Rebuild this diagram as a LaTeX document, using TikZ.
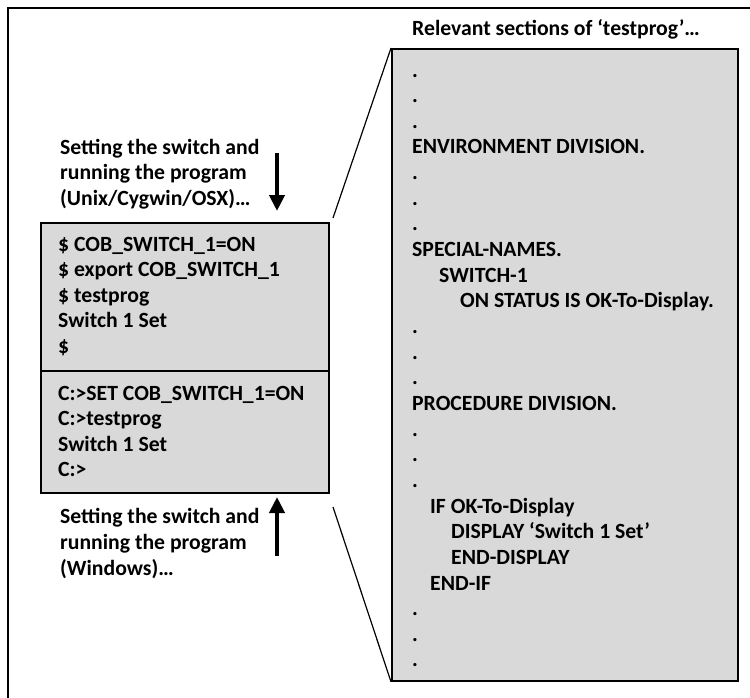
\documentclass[tikz,border=0pt]{standalone}
\usepackage{fontspec}
\setmainfont{Carlito}
\usetikzlibrary{arrows.meta}
\definecolor{boxgray}{HTML}{D9D9D9}
\begin{document}
\begin{tikzpicture}[x=1pt,y=-1pt,
  txt/.style={anchor=base west,inner sep=0pt,font=\bfseries\fontsize{21.7}{26}\selectfont},
  codebox/.style={draw=black,line width=1.8pt,fill=boxgray,inner sep=0pt,anchor=north west},
  bigarrow/.style={line width=4.2pt,-{Triangle[width=15pt,length=16pt]}},
  zoomline/.style={line width=1.2pt}]
\useasboundingbox (0,0) rectangle (750,697);
\clip (0,0) rectangle (750,697);
% outer frame
\draw[line width=1.5pt] (8,720) -- (8,8) -- (770,8);
% program listing
\node[codebox,minimum width=346pt,minimum height=632pt] (prog) at (391,48) {};
\node[txt] (title) at (412,35) {Relevant sections of ‘testprog’…};
\foreach \ind/\line [count=\i] in {0/.,0/.,0/.,0/ENVIRONMENT DIVISION.,0/.,0/.,0/.,
  0/SPECIAL-NAMES.,27/SWITCH-1,48/ON STATUS IS OK-To-Display.,0/.,0/.,0/.,
  0/PROCEDURE DIVISION.,0/.,0/.,0/.,18/IF OK-To-Display,39/DISPLAY ‘Switch 1 Set’,
  39/END-DISPLAY,18/END-IF,0/.,0/.,0/.}
  \node[txt] (code\i) at (412+\ind,77+25.65*\i-25.65) {\line};
% command boxes
\node[codebox,minimum width=288pt,minimum height=148pt] (unix) at (40,222) {};
\node[codebox,minimum width=288pt,minimum height=122pt] (win) at (40,370) {};
\foreach \line [count=\i] in {\$ COB\_SWITCH\_1=ON,\$ export COB\_SWITCH\_1,\$ testprog,Switch 1 Set,\$}
  \node[txt] (u\i) at (58,251+25.5*\i-25.5) {\line};
\foreach \line [count=\i] in {C:>SET COB\_SWITCH\_1=ON,C:>testprog,Switch 1 Set,C:>}
  \node[txt] (w\i) at (58,400+25.5*\i-25.5) {\line};
% captions
\node[txt] (cu1) at (60,154) {Setting the switch and};
\node[txt] (cu2) at (60,179.5) {running the program};
\node[txt] (cu3) at (60,205) {(Unix/Cygwin/OSX)…};
\node[txt] (cw1) at (60,523) {Setting the switch and};
\node[txt] (cw2) at (60,549) {running the program};
\node[txt] (cw3) at (60,575) {(Windows)…};
% arrows
\coordinate (dtail) at (277,153);
\coordinate (dtip) at (277,211);
\coordinate (utail) at (277,556);
\coordinate (utip) at (277,497);
\draw[bigarrow] (dtail) -- (dtip);
\draw[bigarrow] (utail) -- (utip);
% zoom lines
\coordinate (zt) at (333,218);
\coordinate (zb) at (333,507);
\draw[zoomline] (zt) -- (prog.north west);
\draw[zoomline] (zb) -- (prog.south west);
\end{tikzpicture}
\end{document}
